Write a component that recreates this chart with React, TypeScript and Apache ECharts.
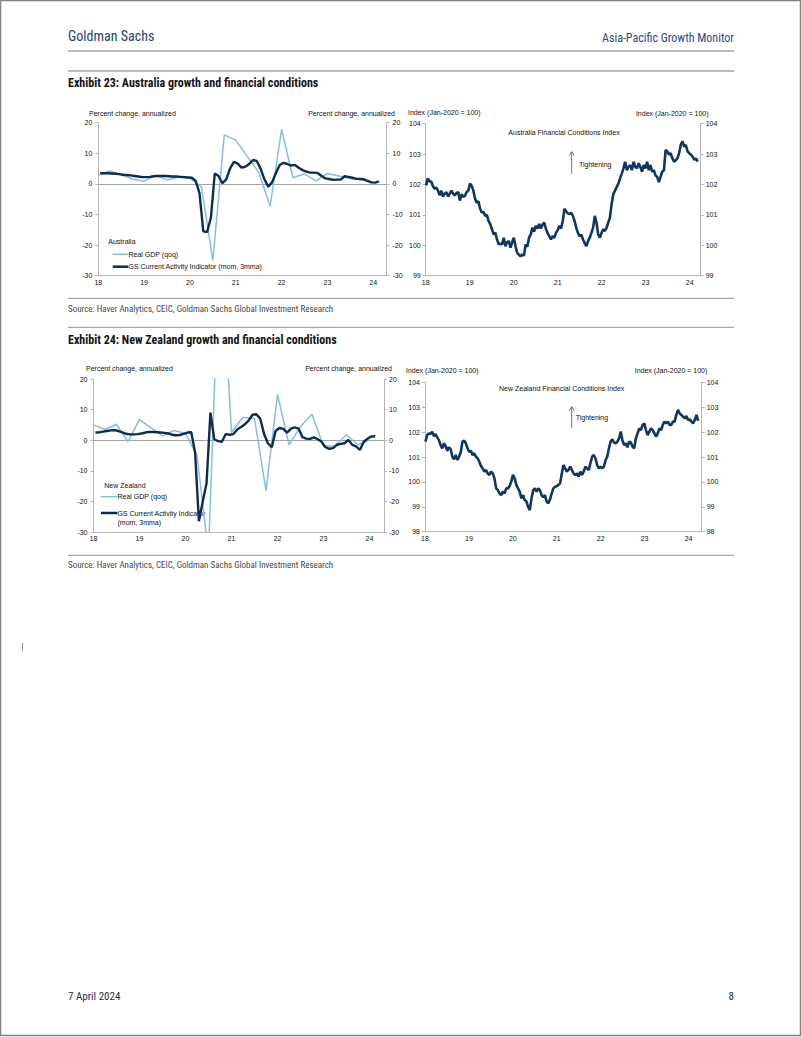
import React, { useEffect, useRef } from "react";
import * as echarts from "echarts";

// ---------- DATA ----------
// Quarterly real GDP (qoq, annualized), quarter ends from 2017Q4 to 2023Q4
const auGdpQoq = [2.8, 4.2, 3.0, 1.6, 0.9, 2.8, 1.3, 2.2, 1.9, -1.0, -25.0, 16.0, 14.3, 9.0, 3.8, -7.3, 17.8, 2.0, 3.3, 1.0, 3.4, 2.6, 1.7, 1.4, 0.5];
const nzGdpQoq = [5.0, 3.5, 5.2, -0.5, 6.8, 4.0, 1.4, 3.2, 2.2, -5.0, -37.0, 68.0, 2.5, 7.5, 7.0, -16.5, 15.0, -1.5, 4.5, 8.5, -2.0, -1.8, 1.8, -1.5, 0.0];

// Monthly GS Current Activity Indicator (mom, 3mma), Jan 2018 .. Feb 2024
const auCai = [
  3.5, 3.5, 3.5, 3.4, 3.3, 3.2, 3.0, 2.9, 2.8, 2.6, 2.4, 2.2,
  2.2, 2.3, 2.5, 2.6, 2.6, 2.6, 2.5, 2.4, 2.4, 2.3, 2.2, 2.1,
  2.0, 1.0, -3.0, -15.5, -15.7, -11.0, 3.4, 2.6, 0.2, 1.5, 5.0, 7.2,
  6.6, 5.3, 5.6, 6.5, 7.8, 7.5, 5.0, 1.5, -0.9, 0.5, 3.5, 6.2,
  6.9, 6.5, 6.0, 6.2, 5.3, 4.5, 4.0, 3.7, 3.7, 3.5, 2.6, 1.8,
  1.6, 1.3, 1.4, 1.4, 2.5, 2.3, 2.0, 1.7, 1.6, 1.5, 1.0, 0.5,
  0.4, 0.8,
];
const nzCai = [
  2.5, 2.6, 2.8, 3.0, 3.2, 3.3, 3.0, 2.6, 2.1, 1.9, 1.9, 2.0,
  2.2, 2.5, 2.7, 2.7, 2.6, 2.5, 2.4, 2.2, 1.8, 1.6, 1.7, 2.1,
  2.5, 2.6, -4.0, -26.5, -20.0, -14.0, 9.0, 0.3, -0.3, -0.5, 2.0, 1.8,
  2.0, 3.5, 4.3, 5.2, 6.5, 8.3, 8.5, 7.0, 2.0, -1.0, -2.3, 3.0,
  4.0, 3.7, 2.5, 3.8, 4.2, 3.8, 1.0, 0.5, 0.4, 0.9, 0.3, -0.5,
  -2.3, -2.8, -2.6, -1.5, -1.2, -1.0, 0.1, -1.5, -2.0, -3.2, -0.5, 0.5,
  1.2, 1.3,
];

// Financial conditions indices (Jan-2020 = 100), fortnightly readings from early Jan 2018
const auFci = [
  101.97, 102.2, 102.1, 102.1, 101.95, 101.86, 101.9, 101.8, 101.64, 101.8,
  101.6, 101.7, 101.75, 101.6, 101.7, 101.8, 101.7, 101.64, 101.72, 101.75,
  101.47, 101.68, 101.6, 101.62, 101.75, 101.8, 102.03, 101.95, 101.8, 101.53,
  101.4, 101.45, 101.2, 101.08, 101.1, 100.97, 101.0, 100.8, 100.7, 100.53,
  100.36, 100.42, 100.2, 100.03, 100.05, 100.03, 100.25, 99.97, 100.1, 100.14,
  99.92, 100.1, 100.25, 99.97, 99.75, 99.69, 99.64, 99.7, 99.66, 100.03,
  99.95, 100.25, 100.35, 100.58, 100.45, 100.64, 100.55, 100.7, 100.55, 100.68,
  100.75, 100.55, 100.4, 100.3, 100.19, 100.3, 100.25, 100.41, 100.5, 100.64,
  100.55, 100.8, 101.2, 101.12, 101.05, 101.03, 101.07, 100.97, 100.8, 100.58,
  100.41, 100.3, 100.35, 100.19, 100.08, 99.97, 100.14, 100.25, 100.41, 100.58,
  100.97, 100.75, 100.36, 100.25, 100.41, 100.53, 100.47, 100.58, 100.75, 100.92,
  101.36, 101.69, 101.8, 101.92, 102.03, 102.2, 102.36, 102.53, 102.75, 102.47,
  102.58, 102.64, 102.47, 102.75, 102.58, 102.53, 102.7, 102.58, 102.42, 102.64,
  102.53, 102.75, 102.47, 102.64, 102.42, 102.47, 102.3, 102.25, 102.08, 102.25,
  102.42, 102.47, 103.14, 103.09, 102.98, 103.03, 102.86, 102.75, 102.8, 102.86,
  103.03, 103.31, 103.42, 103.25, 103.3, 103.09, 103.03, 102.98, 102.92, 102.81,
  102.86, 102.75,
];
const nzFci = [
  101.62, 101.88, 101.95, 101.92, 102.01, 101.84, 101.92, 101.79, 101.68, 101.48,
  101.35, 101.55, 101.44, 101.25, 101.39, 101.31, 101.01, 100.91, 101.08, 100.88,
  101.01, 101.21, 101.62, 101.66, 101.55, 101.35, 101.21, 101.25, 101.08, 101.15,
  101.01, 100.95, 100.81, 100.64, 100.54, 100.41, 100.48, 100.34, 100.28, 100.41,
  100.34, 100.14, 99.74, 99.67, 99.54, 99.47, 99.61, 99.54, 99.74, 99.74,
  99.83, 100.01, 100.28, 100.14, 99.88, 99.74, 99.61, 99.34, 99.47, 99.27,
  99.21, 99.0, 98.87, 99.34, 99.67, 99.74, 99.61, 99.74, 99.67, 99.47,
  99.38, 99.47, 99.21, 99.14, 99.3, 99.54, 99.74, 99.81, 99.83, 99.88,
  99.94, 100.34, 100.68, 100.54, 100.41, 100.48, 100.61, 100.48, 100.34, 100.28,
  100.34, 100.21, 100.41, 100.28, 100.41, 100.61, 100.54, 100.48, 100.75, 101.01,
  101.08, 100.95, 100.68, 100.54, 100.61, 100.54, 100.61, 100.88, 101.01, 101.35,
  101.62, 101.71, 101.58, 101.55, 101.62, 101.75, 102.02, 101.68, 101.48, 101.55,
  101.39, 101.62, 101.58, 101.42, 101.35, 101.75, 101.95, 102.15, 102.08, 102.29,
  102.35, 102.08, 101.88, 102.02, 102.15, 102.08, 101.95, 101.82, 101.95, 102.15,
  102.08, 102.29, 102.42, 102.35, 102.42, 102.29, 102.29, 102.42, 102.42, 102.69,
  102.89, 102.75, 102.69, 102.62, 102.55, 102.65, 102.49, 102.51, 102.42, 102.35,
  102.49, 102.69, 102.45,
];

const growthTicks = [-30, -20, -10, 0, 10, 20];
const auFciTicks = [99, 100, 101, 102, 103, 104];
const nzFciTicks = [98, 99, 100, 101, 102, 103, 104];
const yearTicks = [2018, 2019, 2020, 2021, 2022, 2023, 2024];

// ---------- helpers ----------
const quarterly = (vals: number[]) => vals.map((v, i) => [yearTicks[0] + i * 0.25, v]);
const monthly = (vals: number[]) => vals.map((v, i) => [yearTicks[0] + (i + 0.5) / 12, v]);
const fortnightly = (vals: number[]) => vals.map((v, i) => [yearTicks[0] + 0.01 + (i * 14) / 365.25, v]);

const FONT = "'Liberation Sans', Arial, Helvetica, sans-serif";
const NARROW = "'Liberation Sans Narrow', 'Arial Narrow', 'Roboto Condensed', 'DejaVu Sans Condensed', sans-serif";
const LIGHT = "#86bde6";
const NAVY = "#0f2b52";
const FCI_COL = "#12375f";
const AXIS = "#b5b5b5";
const ZERO = "#a3a3a3";
const TXT = "#111111";

const labelStyle = { fontFamily: FONT, fontSize: 7, color: TXT };

function xAxes(grid: number, max: number, withZero: boolean) {
  const main: any = {
    type: "value",
    gridIndex: grid,
    min: yearTicks[0],
    max,
    interval: 1,
    position: "bottom",
    axisLine: { show: true, onZero: false, lineStyle: { color: AXIS, width: 1 } },
    axisTick: { show: false },
    splitLine: { show: false },
    axisLabel: {
      ...labelStyle,
      margin: 3,
      formatter: (v: number) => (yearTicks.indexOf(Math.round(v)) >= 0 && Math.abs(v - Math.round(v)) < 1e-6 ? String(Math.round(v) - 2000) : ""),
    },
  };
  const out = [main];
  if (withZero) {
    out.push({
      type: "value",
      gridIndex: grid,
      min: yearTicks[0],
      max,
      interval: 1,
      position: "bottom",
      axisLine: { show: true, onZero: true, lineStyle: { color: ZERO, width: 1 } },
      axisTick: { show: false },
      splitLine: { show: false },
      axisLabel: { show: false },
    });
  }
  return out;
}

function yAxes(grid: number, ticks: number[], leftMargin: number, rightMargin: number) {
  const base = {
    type: "value",
    gridIndex: grid,
    min: ticks[0],
    max: ticks[ticks.length - 1],
    interval: ticks[1] - ticks[0],
    axisLine: { show: true, lineStyle: { color: AXIS, width: 1 } },
    axisTick: { show: true, inside: false, length: 3, lineStyle: { color: AXIS } },
    splitLine: { show: false },
  };
  return [
    { ...base, position: "left", axisLabel: { ...labelStyle, margin: leftMargin } },
    { ...base, position: "right", axisLabel: { ...labelStyle, margin: rightMargin, align: "left" } },
  ];
}

function txt(text: string, x: number, y: number, opts: any = {}) {
  return {
    type: "text",
    silent: true,
    style: {
      text,
      x,
      y,
      fill: opts.fill || TXT,
      font: opts.font || `7px ${FONT}`,
      textAlign: opts.align || "left",
      textVerticalAlign: "middle",
    },
  };
}

function ln(x1: number, y1: number, x2: number, y2: number, stroke: string, lineWidth: number) {
  return { type: "line", silent: true, shape: { x1, y1, x2, y2 }, style: { stroke, lineWidth } };
}

function arrow(x: number, yTop: number, yBottom: number) {
  return [
    ln(x, yTop, x, yBottom, "#555", 0.8),
    { type: "polyline", silent: true, shape: { points: [[x - 2.5, yTop + 4], [x, yTop], [x + 2.5, yTop + 4]] }, style: { stroke: "#555", lineWidth: 0.8, fill: "none" } },
  ];
}

export default function App() {
  const ref = useRef<HTMLDivElement>(null);

  useEffect(() => {
    if (!ref.current) return;
    const chart = echarts.init(ref.current, undefined, { renderer: "svg" });

    const RULE = "#a6a6a6";
    const graphics: any[] = [
      { type: "rect", silent: true, shape: { x: 0.5, y: 0.5, width: 800, height: 1035 }, style: { fill: "none", stroke: "#808080", lineWidth: 1.5 } },
      txt("Goldman Sachs", 68, 36, { font: `14px ${NARROW}`, fill: "#2a4266" }),
      txt("Asia-Pacific Growth Monitor", 734, 37.5, { font: `12px ${NARROW}`, fill: "#2a4d78", align: "right" }),
      ln(68, 51, 734, 51, RULE, 1.3),
      ln(68, 71, 734, 71, RULE, 1.3),
      txt("Exhibit 23: Australia growth and financial conditions", 68, 83, { font: `bold 12px ${NARROW}`, fill: "#141414" }),
      ln(68, 298.3, 734, 298.3, RULE, 1.3),
      txt("Source: Haver Analytics, CEIC, Goldman Sachs Global Investment Research", 68, 308.5, { font: `9px ${NARROW}`, fill: "#4a4a4a" }),
      ln(68, 327.3, 734, 327.3, RULE, 1.3),
      txt("Exhibit 24: New Zealand growth and financial conditions", 68, 340, { font: `bold 12px ${NARROW}`, fill: "#141414" }),
      ln(68, 555.3, 734, 555.3, RULE, 1.3),
      txt("Source: Haver Analytics, CEIC, Goldman Sachs Global Investment Research", 68, 565, { font: `9px ${NARROW}`, fill: "#4a4a4a" }),
      ln(22.5, 643, 22.5, 651, "#999", 1),
      txt("7 April 2024", 68, 996, { font: `11px ${NARROW}`, fill: "#1f2f45" }),
      txt("8", 734, 996, { font: `11px ${NARROW}`, fill: "#1f2f45", align: "right" }),

      // Australia growth chart
      txt("Percent change, annualized", 89, 113),
      txt("Percent change, annualized", 395, 113, { align: "right" }),
      txt("Australia", 108.3, 241.7),
      ln(112.7, 254.3, 128.3, 254.3, LIGHT, 1.5),
      txt("Real GDP (qoq)", 128.5, 254.3),
      ln(112.7, 266.7, 128.3, 266.7, NAVY, 2.5),
      txt("GS Current Activity Indicator (mom, 3mma)", 128.5, 266.7),

      // Australia FCI chart
      txt("Index (Jan-2020 = 100)", 408, 112.7),
      txt("Index (Jan-2020 = 100)", 708.5, 113, { align: "right" }),
      txt("Australia Financial Conditions Index", 564, 132.7, { align: "center" }),
      txt("Tightening", 579, 164.3),
      ...arrow(571.7, 151.7, 174),

      // New Zealand growth chart
      txt("Percent change, annualized", 86, 368.3),
      txt("Percent change, annualized", 392, 368.3, { align: "right" }),
      txt("New Zealand", 104.3, 485),
      ln(100.7, 496.7, 117.3, 496.7, LIGHT, 1.5),
      txt("Real GDP (qoq)", 117.5, 496.7),
      ln(101, 513, 117.5, 513, NAVY, 2.5),
      txt("GS Current Activity Indicator", 117.5, 513),
      txt("(mom, 3mma)", 117.5, 522),

      // New Zealand FCI chart
      txt("Index (Jan-2020 = 100)", 406, 370),
      txt("Index (Jan-2020 = 100)", 707.3, 370, { align: "right" }),
      txt("New Zealand Financial Conditions Index", 561.7, 388.3, { align: "center" }),
      txt("Tightening", 575.7, 417.3),
      ...arrow(571.7, 406.7, 428.3),
    ];

    const option: any = {
      animation: false,
      backgroundColor: "#ffffff",
      grid: [
        { left: 98.3, top: 122.7, width: 288.2, height: 153, outerBoundsMode: "none", containLabel: false },
        { left: 425.7, top: 123.7, width: 275, height: 152, outerBoundsMode: "none", containLabel: false },
        { left: 93.5, top: 379, width: 290.5, height: 153, outerBoundsMode: "none", containLabel: false },
        { left: 425, top: 382.3, width: 276.7, height: 149.4, outerBoundsMode: "none", containLabel: false },
      ],
      // xAxis indices: 0 AU growth, 1 AU zero line, 2 AU FCI, 3 NZ growth, 4 NZ zero line, 5 NZ FCI
      xAxis: [
        ...xAxes(0, 2024.29, true),
        ...xAxes(1, 2024.25, false),
        ...xAxes(2, 2024.315, true),
        ...xAxes(3, 2024.3, false),
      ],
      // yAxis indices: 0/1 AU growth, 2/3 AU FCI, 4/5 NZ growth, 6/7 NZ FCI
      yAxis: [
        ...yAxes(0, growthTicks, 6, 6),
        ...yAxes(1, auFciTicks, 5, 5),
        ...yAxes(2, growthTicks, 6, 5),
        ...yAxes(3, nzFciTicks, 5, 5),
      ],
      series: [
        { name: "Real GDP (qoq)", type: "line", xAxisIndex: 0, yAxisIndex: 0, data: quarterly(auGdpQoq), showSymbol: false, symbol: "none", z: 2, lineStyle: { color: LIGHT, width: 1.5 }, itemStyle: { color: LIGHT } },
        { name: "GS Current Activity Indicator (mom, 3mma)", type: "line", xAxisIndex: 0, yAxisIndex: 0, data: monthly(auCai), showSymbol: false, symbol: "none", z: 3, lineStyle: { color: NAVY, width: 2.4 }, itemStyle: { color: NAVY } },
        { name: "Australia Financial Conditions Index", type: "line", xAxisIndex: 2, yAxisIndex: 2, data: fortnightly(auFci), showSymbol: false, symbol: "none", z: 3, lineStyle: { color: FCI_COL, width: 2.6 }, itemStyle: { color: FCI_COL } },
        { name: "NZ Real GDP (qoq)", type: "line", xAxisIndex: 3, yAxisIndex: 4, data: quarterly(nzGdpQoq), showSymbol: false, symbol: "none", z: 2, lineStyle: { color: LIGHT, width: 1.5 }, itemStyle: { color: LIGHT } },
        { name: "NZ GS Current Activity Indicator", type: "line", xAxisIndex: 3, yAxisIndex: 4, data: monthly(nzCai), showSymbol: false, symbol: "none", z: 3, lineStyle: { color: NAVY, width: 2.4 }, itemStyle: { color: NAVY } },
        { name: "New Zealand Financial Conditions Index", type: "line", xAxisIndex: 5, yAxisIndex: 6, data: fortnightly(nzFci), showSymbol: false, symbol: "none", z: 3, lineStyle: { color: FCI_COL, width: 2.6 }, itemStyle: { color: FCI_COL } },
      ],
      graphic: { elements: graphics },
    };

    chart.setOption(option);
    return () => chart.dispose();
  }, []);

  return (
    <div
      ref={ref}
      style={{ position: "fixed", left: 0, top: 0, width: 802, height: 1037, background: "#ffffff" }}
    />
  );
}
